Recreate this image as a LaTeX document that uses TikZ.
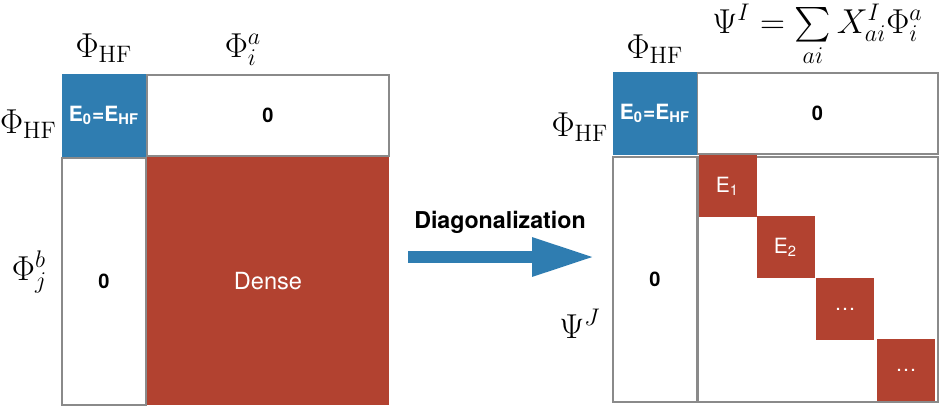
\documentclass[tikz,border=0pt]{standalone}
\usepackage{amsmath}
\usepackage{fontspec}
\setsansfont{TeX Gyre Heros}
\usetikzlibrary{arrows.meta}
\definecolor{hfblue}{RGB}{47,125,177}
\definecolor{blkred}{RGB}{178,66,48}
\definecolor{cellgray}{RGB}{138,138,138}
\begin{document}
\begin{tikzpicture}[line join=miter,x=0.5pt,y=-0.5pt,
	lbl/.style={font=\fontsize{17}{20}\selectfont,inner sep=0pt},
	cell/.style={draw=cellgray,line width=1pt,fill=white,inner sep=0pt,font=\sffamily\bfseries\fontsize{10}{12}\selectfont},
	hfbox/.style={fill=hfblue,text=white,inner sep=0pt,minimum width=42pt,minimum height=41.5pt,font=\sffamily\bfseries\fontsize{10.5}{12}\selectfont},
	redbox/.style={fill=blkred,text=white,inner sep=0pt,font=\sffamily\fontsize{10.5}{12}\selectfont},
	eblock/.style={redbox,minimum width=29pt,minimum height=31pt},
	bigarrow/.style={draw=hfblue,line width=6pt,line cap=butt,-{Triangle[length=31.5pt,width=18pt]}}]
	\useasboundingbox (0,0) rectangle (942,409);
	% left matrix
	\node[cell,minimum width=42pt,minimum height=123.5pt] (zeroBL) at (104,281.5) {0};
	\node[cell,minimum width=121pt,minimum height=40.5pt] (zeroTL) at (268,115.5) {0};
	\node[hfbox] (hfL) at (104,115.5) {E\textsubscript{0}=E\textsubscript{HF}};
	\node[redbox,minimum width=121pt,minimum height=124pt,font=\sffamily\fontsize{11.8}{14}\selectfont] (dense) at (268,281) {Dense};
	\node[lbl,anchor=base] (phiHFtL) at (104,57) {$\Phi_{\mathrm{HF}}$};
	\node[lbl,anchor=base] (phiIA) at (243,57) {$\Phi_i^a$};
	\node[lbl,anchor=base] (phiHFlL) at (28.5,133) {$\Phi_{\mathrm{HF}}$};
	\node[lbl,anchor=base] (phiJB) at (29.5,280) {$\Phi_j^b$};
	% arrow
	\node[font=\sffamily\bfseries\fontsize{11.6}{14}\selectfont,anchor=base,inner sep=0pt] (diag) at (500,228) {Diagonalization};
	\coordinate (arrS) at (408,257);
	\coordinate (arrE) at (595,257);
	\draw[bigarrow] (arrS) -- (arrE);
	% right matrix
	\node[cell,minimum width=42pt,minimum height=122.5pt] (zeroBR) at (655,279.5) {0};
	\node[cell,minimum width=120pt,minimum height=122.5pt] (mainBR) at (818,279.5) {};
	\node[cell,minimum width=120.5pt,minimum height=40.5pt] (zeroTR) at (817.5,113.5) {0};
	\node[hfbox] (hfR) at (655,113.5) {E\textsubscript{0}=E\textsubscript{HF}};
	\node[eblock] (e1) at (727.5,186) {E\textsubscript{1}};
	\node[eblock] (e2) at (785.5,247) {E\textsubscript{2}};
	\node[eblock] (e3) at (845,309) {\dots};
	\node[eblock] (e4) at (906,370) {\dots};
	\node[lbl,anchor=base] (phiHFtR) at (655,58) {$\Phi_{\mathrm{HF}}$};
	\node[lbl,anchor=base west,font=\fontsize{18}{21}\selectfont] (psiSum) at (712,33) {$\Psi^I=\sum\limits_{ai}X_{ai}^I\Phi_i^a$};
	\node[lbl,anchor=base] (phiHFlR) at (580,136) {$\Phi_{\mathrm{HF}}$};
	\node[lbl,anchor=base] (psiJ) at (580,338) {$\Psi^J$};
\end{tikzpicture}
\end{document}
